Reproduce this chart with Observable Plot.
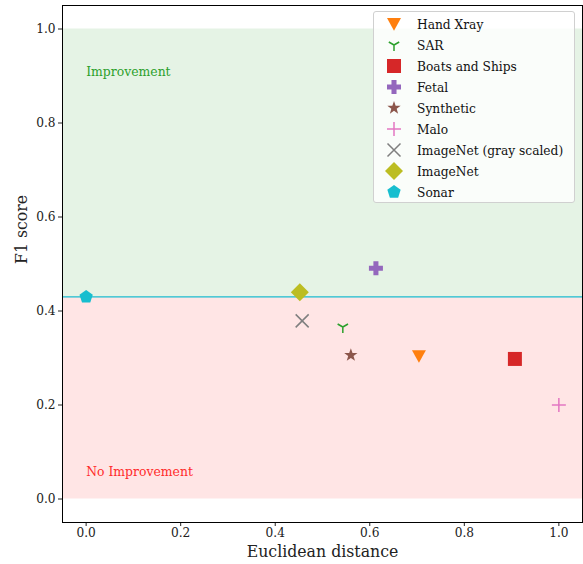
<!DOCTYPE html>
<html><head><meta charset="utf-8">
<script src="https://cdn.jsdelivr.net/npm/d3@7"></script>
<script src="https://cdn.jsdelivr.net/npm/@observablehq/plot@0.6"></script>
<style>
body{margin:0;background:#fff;}
#wrap{position:relative;width:583px;height:564px;font-family:"DejaVu Serif Condensed","DejaVu Serif",serif;}
#legend{position:absolute;left:373px;top:11px;width:202px;height:192px;border:1px solid #d0d0d0;border-radius:3px;background:rgba(255,255,255,0.8);box-sizing:border-box;padding-top:1px;}
.row{height:21px;display:flex;align-items:center;font-size:13.6px;color:#111;}
.row svg{margin-left:8px;margin-right:11px;}
</style></head>
<body><div id="wrap"></div>
<script>
const names = ["Hand Xray","SAR","Boats and Ships","Fetal","Synthetic","Malo","ImageNet (gray scaled)","ImageNet","Sonar"];
const xs = [0.704,0.543,0.907,0.613,0.560,1.0,0.457,0.452,0.0];
const ys = [0.304,0.366,0.298,0.491,0.306,0.200,0.379,0.440,0.430];
const colors = ["#ff7f0e","#2ca02c","#d62728","#9467bd","#8c564b","#e377c2","#7f7f7f","#bcbd22","#17becf"];
const shapes = ["triDown","tri","square","plusFilled","star","plus","times","diamond","pentagon"];
const radii = [7,6,7,7,7,7,6.5,9,7];
const filled = [true,false,true,true,true,false,false,true,true];
const baseline = 0.43;
const xTicks = [0,0.2,0.4,0.6,0.8,1.0];
const yTicks = [0,0.2,0.4,0.6,0.8,1.0];
const FONT = '"DejaVu Serif Condensed","DejaVu Serif",serif';

function mk(fn){return {draw(ctx,size){const r=Math.sqrt(size/Math.PI);fn(ctx,r);}};}
function poly(ctx,pts){ctx.moveTo(pts[0][0],pts[0][1]);for(let i=1;i<pts.length;i++)ctx.lineTo(pts[i][0],pts[i][1]);ctx.closePath();}
const symbols = {
  triDown: mk((c,r)=>poly(c,[[-r,-r*0.85],[r,-r*0.85],[0,r*0.95]])),
  tri: mk((c,r)=>{c.moveTo(0,0);c.lineTo(0,r);c.moveTo(0,0);c.lineTo(-0.866*r,-0.5*r);c.moveTo(0,0);c.lineTo(0.866*r,-0.5*r);}),
  square: mk((c,r)=>poly(c,[[-r,-r],[r,-r],[r,r],[-r,r]])),
  plusFilled: mk((c,r)=>{const w=r*0.36;poly(c,[[-w,-r],[w,-r],[w,-w],[r,-w],[r,w],[w,w],[w,r],[-w,r],[-w,w],[-r,w],[-r,-w],[-w,-w]]);}),
  star: mk((c,r)=>{const p=[];for(let i=0;i<10;i++){const a=-Math.PI/2+i*Math.PI/5;const rr=i%2?r*0.4:r;p.push([rr*Math.cos(a),rr*Math.sin(a)]);}poly(c,p);}),
  plus: mk((c,r)=>{c.moveTo(-r,0);c.lineTo(r,0);c.moveTo(0,-r);c.lineTo(0,r);}),
  times: mk((c,r)=>{c.moveTo(-r,-r);c.lineTo(r,r);c.moveTo(-r,r);c.lineTo(r,-r);}),
  diamond: mk((c,r)=>poly(c,[[0,-r],[r,0],[0,r],[-r,0]])),
  pentagon: mk((c,r)=>{const p=[];for(let i=0;i<5;i++){const a=-Math.PI/2+i*2*Math.PI/5;p.push([r*Math.cos(a),r*Math.sin(a)]);}poly(c,p);})
};

const data = names.map((n,i)=>({name:n,x:xs[i],y:ys[i]}));
const dotMarks = data.map((d,i)=> filled[i]
  ? Plot.dot([d],{x:"x",y:"y",symbol:symbols[shapes[i]],r:radii[i],fill:colors[i],stroke:"none"})
  : Plot.dot([d],{x:"x",y:"y",symbol:symbols[shapes[i]],r:radii[i],fill:"none",stroke:colors[i],strokeWidth:1.5}));

const chart = Plot.plot({
  width:583,height:564,marginLeft:62,marginRight:1,marginTop:5,marginBottom:42,
  style:{fontFamily:FONT,fontSize:"13.5px",color:"#222",background:"#fff"},
  x:{domain:[-0.05,1.05]},
  y:{domain:[-0.05,1.05]},
  marks:[
    Plot.rect([{y1:baseline,y2:1.0}],{y1:"y1",y2:"y2",fill:"#2ca02c",fillOpacity:0.12}),
    Plot.rect([{y1:0,y2:baseline}],{y1:"y1",y2:"y2",fill:"#ff0000",fillOpacity:0.1}),
    Plot.ruleY([baseline],{stroke:"#17becf",strokeWidth:1.2}),
    Plot.text(["Improvement"],{x:[0],y:[0.9],textAnchor:"start",fill:"#2ca02c",fontSize:13.8,dy:-4}),
    Plot.text(["No Improvement"],{x:[0],y:[0.05],textAnchor:"start",fill:"#ff2b2b",fontSize:13.8,dy:-4}),
    ...dotMarks,
    Plot.axisX({ticks:xTicks,tickFormat:d3.format(".1f"),tickSize:4,label:null,tickPadding:1}),
    Plot.axisY({ticks:yTicks,tickFormat:d3.format(".1f"),tickSize:4,label:null,tickPadding:3}),
    Plot.text(["Euclidean distance"],{frameAnchor:"bottom",dy:34,fontSize:17.5,fill:"#222"}),
    Plot.text(["F1 score"],{frameAnchor:"left",dx:-41,rotate:-90,fontSize:17.5,fill:"#222"}),
    Plot.frame({stroke:"#000",strokeWidth:1})
  ]
});
const wrap=document.getElementById("wrap");
wrap.appendChild(chart);
const leg=document.createElement("div");leg.id="legend";wrap.appendChild(leg);
names.forEach((n,i)=>{
  const row=document.createElement("div");row.className="row";
  const p=d3.path();symbols[shapes[i]].draw(p,radii[i]*radii[i]*Math.PI);
  const svg=d3.create("svg").attr("width",24).attr("height",20);
  svg.append("path").attr("transform","translate(12,10)").attr("d",p.toString())
    .attr("fill",filled[i]?colors[i]:"none").attr("stroke",filled[i]?"none":colors[i]).attr("stroke-width",1.5);
  row.appendChild(svg.node());
  const t=document.createElement("span");t.textContent=n;row.appendChild(t);
  leg.appendChild(row);
});
</script></body></html>
